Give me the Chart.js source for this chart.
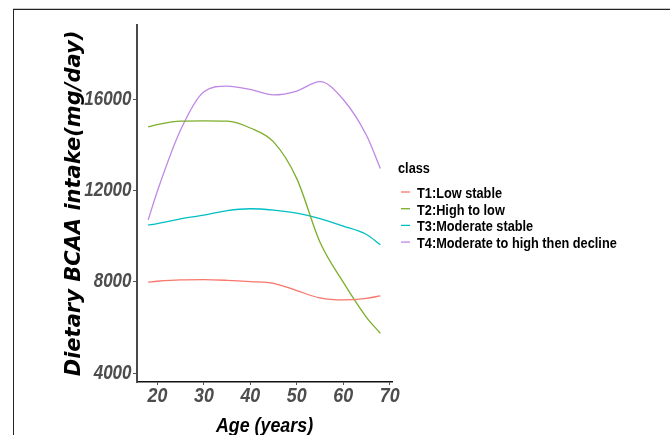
<!DOCTYPE html>
<html lang="en">
    <head>
        <meta charset="UTF-8">
        <script src="https://cdn.jsdelivr.net/npm/chart.js@4.4.0/dist/chart.umd.min.js"></script>
        <title>Dietary BCAA intake</title>
        <style>
            body { margin: 0; background: #ffffff; }
            #wrap { position: relative; width: 670px; height: 435px; overflow: hidden; }
            #frame { position: absolute; left: 13px; top: 9px; width: 700px; height: 500px;
                     border-top: 1px solid #222; border-left: 1px solid #222;
                     box-shadow: 0 -1px 0 #c8c8c8; }
            #graph { position: absolute; left: 0; top: 0; }
        </style>
    </head>
    <body>
        <div id="wrap">
            <div id="frame"></div>
            <canvas id="graph" width="670" height="435"></canvas>
        </div>
        <script>
            // values
            const ages = [18, 20, 25, 30, 35, 40, 45, 50, 55, 60, 65, 68];
            const t1 = [7990, 8030, 8090, 8100, 8070, 8015, 7940, 7620, 7300, 7210, 7280, 7390];
            const t2 = [14800, 14900, 15050, 15060, 15050, 14750, 14140, 12530, 9740, 7990, 6450, 5750];
            const t3 = [10490, 10560, 10770, 10930, 11130, 11210, 11150, 11020, 10780, 10450, 10080, 9630];
            const t4 = [10720, 11990, 14670, 16340, 16590, 16440, 16200, 16370, 16780, 16000, 14430, 12970];
            const classNames = ['T1:Low stable', 'T2:High to low', 'T3:Moderate stable', 'T4:Moderate to high then decline'];
            const colors = ['#F8766D', '#7CAE2A', '#00BFC4', '#BF88E6'];
            const xTicks = [20, 30, 40, 50, 60, 70];
            const yTicks = [4000, 8000, 12000, 16000];

            // the figure's text is a squeezed Arial, so draw it with a horizontal squeeze
            const sans = "'Liberation Sans', Arial, sans-serif";
            const squeeze = 0.85;

            function squeezedText(ctx, text, x, y, font, color, align, baseline) {
                ctx.save();
                ctx.translate(x, y);
                ctx.scale(squeeze, 1);
                ctx.font = font;
                ctx.fillStyle = color;
                ctx.textAlign = align;
                ctx.textBaseline = baseline;
                ctx.fillText(text, 0, 0);
                ctx.restore();
            }

            const series = [t1, t2, t3, t4];
            const datasets = series.map((vals, i) => ({
                label: classNames[i],
                data: ages.map((a, j) => ({x: a, y: vals[j]})),
                borderColor: colors[i],
                backgroundColor: colors[i],
                borderWidth: 1.3,
                pointRadius: 0,
                fill: false,
                cubicInterpolationMode: 'monotone'
            }));

            // tick labels, x title and the ggplot style legend
            const textLayer = {
                id: 'textLayer',
                afterDraw(chart) {
                    const ctx = chart.ctx;
                    const xs = chart.scales.x;
                    const ys = chart.scales.y;

                    ys.ticks.forEach(t => {
                        squeezedText(ctx, String(t.value), 131.5, ys.getPixelForValue(t.value),
                                     "italic bold 20px " + sans, '#4d4d4d', 'right', 'middle');
                    });
                    xs.ticks.forEach(t => {
                        squeezedText(ctx, String(t.value), xs.getPixelForValue(t.value), 401.5,
                                     "italic bold 21px " + sans, '#4d4d4d', 'center', 'alphabetic');
                    });
                    squeezedText(ctx, 'Age (years)', (chart.chartArea.left + chart.chartArea.right) / 2, 431.5,
                                 "italic bold 21px " + sans, '#000', 'center', 'alphabetic');

                    squeezedText(ctx, 'class', 398, 173, "bold 15px " + sans, '#000', 'left', 'alphabetic');
                    chart.data.datasets.forEach((ds, i) => {
                        const base = 198 + i * 16.7;
                        ctx.save();
                        ctx.strokeStyle = ds.borderColor;
                        ctx.lineWidth = 1.3;
                        ctx.beginPath();
                        ctx.moveTo(401, base - 6);
                        ctx.lineTo(410, base - 6);
                        ctx.stroke();
                        ctx.restore();
                        squeezedText(ctx, ds.label, 417, base, "bold 15px " + sans, '#000', 'left', 'alphabetic');
                    });
                }
            };

            const ctx = document.getElementById('graph').getContext('2d');
            const myChart = new Chart(ctx, {
                type: 'line',
                data: { datasets: datasets },
                options: {
                    responsive: false,
                    animation: false,
                    layout: { padding: { top: 25, right: 278, bottom: 0, left: 0 } },
                    plugins: { legend: { display: false }, tooltip: { enabled: false } },
                    scales: {
                        x: {
                            type: 'linear',
                            min: 15.6,
                            max: 70.5,
                            afterBuildTicks: (s) => { s.ticks = xTicks.map(v => ({value: v})); },
                            afterFit: (s) => { s.height = 53; },
                            grid: { display: true, drawOnChartArea: false, drawTicks: true, tickLength: 3, color: '#555' },
                            border: { display: true, color: '#111', width: 1.5 },
                            ticks: { display: false }
                        },
                        y: {
                            min: 3613,
                            max: 19266,
                            afterBuildTicks: (s) => { s.ticks = yTicks.map(v => ({value: v})); },
                            afterFit: (s) => { s.width = 137; },
                            grid: { display: true, drawOnChartArea: false, drawTicks: true, tickLength: 4, color: '#555' },
                            border: { display: true, color: '#4a4a4a', width: 2 },
                            ticks: { display: false },
                            title: {
                                display: true,
                                text: 'Dietary BCAA intake(mg/day)',
                                color: '#000',
                                padding: { top: 64, bottom: 0 },
                                font: { family: "'DejaVu Sans', sans-serif", size: 21, weight: 'bold', style: 'italic', lineHeight: 1 }
                            }
                        }
                    }
                },
                plugins: [textLayer]
            });
        </script>
    </body>
</html>
